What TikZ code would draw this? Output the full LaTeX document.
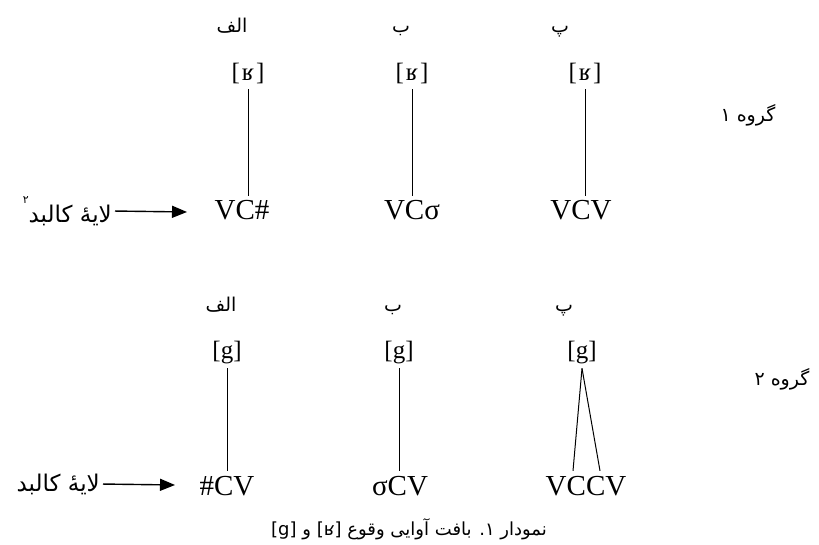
\documentclass[tikz,border=0pt]{standalone}
\usepackage{fontspec}
\setmainfont{Liberation Serif}
\newfontfamily\arabicfont[Script=Arabic]{DejaVu Sans}
\TeXXeTstate=1
\usetikzlibrary{arrows.meta,calc}
\newcommand\rl[1]{\beginR #1\endR}
\begin{document}
\begin{tikzpicture}[x=1pt,y=-1pt,
  fa/.style={inner sep=0pt, font=\arabicfont\fontsize{19}{19}\selectfont},
  ipa/.style={inner sep=0pt, outer sep=5pt, anchor=base, font=\fontsize{25}{25}\selectfont},
  form/.style={inner sep=0pt, outer sep=5pt, anchor=base, font=\fontsize{29}{29}\selectfont},
  assoc/.style={line width=1pt},
  layer/.style={line width=1.4pt, shorten <=3pt, -{Triangle[length=15pt,width=12pt]}}]
\useasboundingbox (0,0) rectangle (819,545);
\node[fa, anchor=base] (h1a) at (232,33){\rl{الف}};
\node[fa, anchor=base] (h1b) at (401,33){\rl{ب}};
\node[fa, anchor=base] (h1c) at (560,33){\rl{پ}};
\node[ipa] (r1a) at (248,81){[\kern2ptʁ\kern2pt]};
\node[ipa] (r1b) at (412,81){[\kern2ptʁ\kern2pt]};
\node[ipa] (r1c) at (585,81){[\kern2ptʁ\kern2pt]};
\node[form] (f1a) at (242,220){VC\#};
\node[form] (f1b) at (412,220){VCσ};
\node[form] (f1c) at (581,220){VCV};
\draw[assoc] (r1a.south) -- (r1a.south |- f1a.north);
\draw[assoc] (r1b.south) -- (r1b.south |- f1b.north);
\draw[assoc] (r1c.south) -- (r1c.south |- f1c.north);
\node[fa] (grp1) at (748,115){\rl{گروه ۱}};
\node[fa, anchor=east, font=\arabicfont\fontsize{23}{23}\selectfont] (lay1) at (112,211){\rl{لایهٔ کالبد\raisebox{1.5ex}{\fontsize{11}{11}\selectfont ۲}}};
\coordinate (tip1) at (187,212);
\draw[layer] (lay1.east) -- (tip1);
\node[fa, anchor=base] (h2a) at (221,312){\rl{الف}};
\node[fa, anchor=base] (h2b) at (393,312){\rl{ب}};
\node[fa, anchor=base] (h2c) at (564,312){\rl{پ}};
\node[ipa] (r2a) at (227,358){[g]};
\node[ipa] (r2b) at (399,358){[g]};
\node[ipa] (r2c) at (582,358){[g]};
\node[form] (f2a) at (227,495){\#CV};
\node[form] (f2b) at (400,495){σCV};
\node[form] (f2c) at (586,495){VCCV};
\draw[assoc] (r2a.south) -- (r2a.south |- f2a.north);
\draw[assoc] (r2b.south) -- (r2b.south |- f2b.north);
\draw[assoc] (r2c.south) -- ($(f2c.north)+(-13,0)$);
\draw[assoc] (r2c.south) -- ($(f2c.north)+(14,0)$);
\node[fa] (grp2) at (782,379){\rl{گروه ۲}};
\node[fa, anchor=east, font=\arabicfont\fontsize{23}{23}\selectfont] (lay2) at (100,484){\rl{لایهٔ کالبد}};
\coordinate (tip2) at (175,485);
\draw[layer] (lay2.east) -- (tip2);
\node[fa, anchor=base, font=\arabicfont\fontsize{18}{18}\selectfont] (cap) at (409,535){\rl{نمودار ۱. بافت آوایی وقوع \beginL[ʁ]\endL{} و \beginL[g]\endL}};
\end{tikzpicture}
\end{document}
